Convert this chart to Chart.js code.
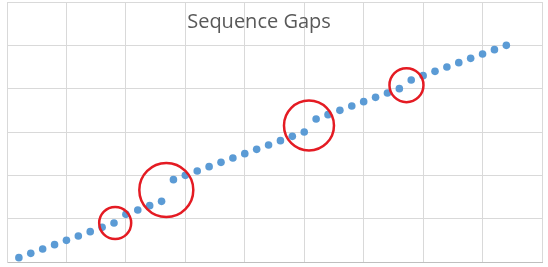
<!DOCTYPE html>
<html>
<head>
<meta charset="utf-8">
<script src="https://cdn.jsdelivr.net/npm/chart.js@4.4.0/dist/chart.umd.min.js"></script>
<style>
  html, body { margin: 0; padding: 0; background: #fff; }
  #wrap { width: 548px; height: 267px; }
</style>
</head>
<body>
<div id="wrap"><canvas id="myChart" width="548" height="267"></canvas></div>
<script>
// sequence numbers
const seqX = [1, 2, 3, 4, 5, 6, 7, 8, 9, 10, 11, 12, 13, 14, 15, 16, 17, 18, 19, 20, 21,
  22, 23, 24, 25, 26, 27, 28, 29, 30, 31, 32, 33, 34, 35, 36, 37, 38, 39, 40, 41, 42];
const seqY = [1, 2, 3, 4, 5, 6, 7, 8, 9, 11, 12, 13, 14, 19, 20, 21, 22, 23, 24, 25, 26,
  27, 28, 29, 30, 33, 34, 35, 36, 37, 38, 39, 40, 42, 43, 44, 45, 46, 47, 48, 49, 50];
// where the gaps are marked
const gapX = [9.1, 13.4, 25.4, 33.6];
const gapY = [9.0, 16.6, 31.5, 40.8];
const titleText = "Sequence Gaps";

const points = seqX.map((x, i) => ({ x: x, y: seqY[i] }));
const gaps = gapX.map((x, i) => ({ x: x, y: gapY[i] }));

// title sits on top of the plot area, like the original
const overlayTitle = {
  id: "overlayTitle",
  afterDraw(chart) {
    const ctx = chart.ctx;
    ctx.save();
    ctx.font = "20px 'Open Sans'";
    ctx.fillStyle = "#595959";
    ctx.textAlign = "center";
    ctx.textBaseline = "alphabetic";
    ctx.fillText(titleText, 259, 28);
    ctx.restore();
  }
};

var ctx = document.getElementById("myChart").getContext("2d");
var myChart = new Chart(ctx, {
  type: "scatter",
  data: {
    datasets: [
      {
        data: gaps,
        order: 0,
        clip: false,
        pointStyle: "circle",
        pointRadius: [16, 27, 25, 17],
        backgroundColor: "rgba(0,0,0,0)",
        borderColor: "#e41b23",
        borderWidth: 2.5,
      },
      {
        data: points,
        order: 1,
        clip: false,
        pointRadius: 3.8,
        backgroundColor: "#5b9bd5",
        borderColor: "#5b9bd5",
        borderWidth: 0,
      },
    ],
  },
  options: {
    responsive: false,
    animation: false,
    events: [],
    layout: { autoPadding: false, padding: { left: 7, right: 6, top: 2, bottom: 5 } },
    plugins: {
      legend: { display: false },
      title: { display: false },
      tooltip: { enabled: false },
    },
    scales: {
      x: {
        min: 0,
        max: 45,
        ticks: { display: false, stepSize: 5 },
        grid: { color: "#d9d9d9", drawTicks: false },
        border: { color: "#bfbfbf" },
      },
      y: {
        min: 0,
        max: 60,
        ticks: { display: false, stepSize: 10 },
        grid: { color: "#d9d9d9", drawTicks: false },
        border: { color: "#d9d9d9" },
      },
    },
  },
  plugins: [overlayTitle],
});
</script>
</body>
</html>
